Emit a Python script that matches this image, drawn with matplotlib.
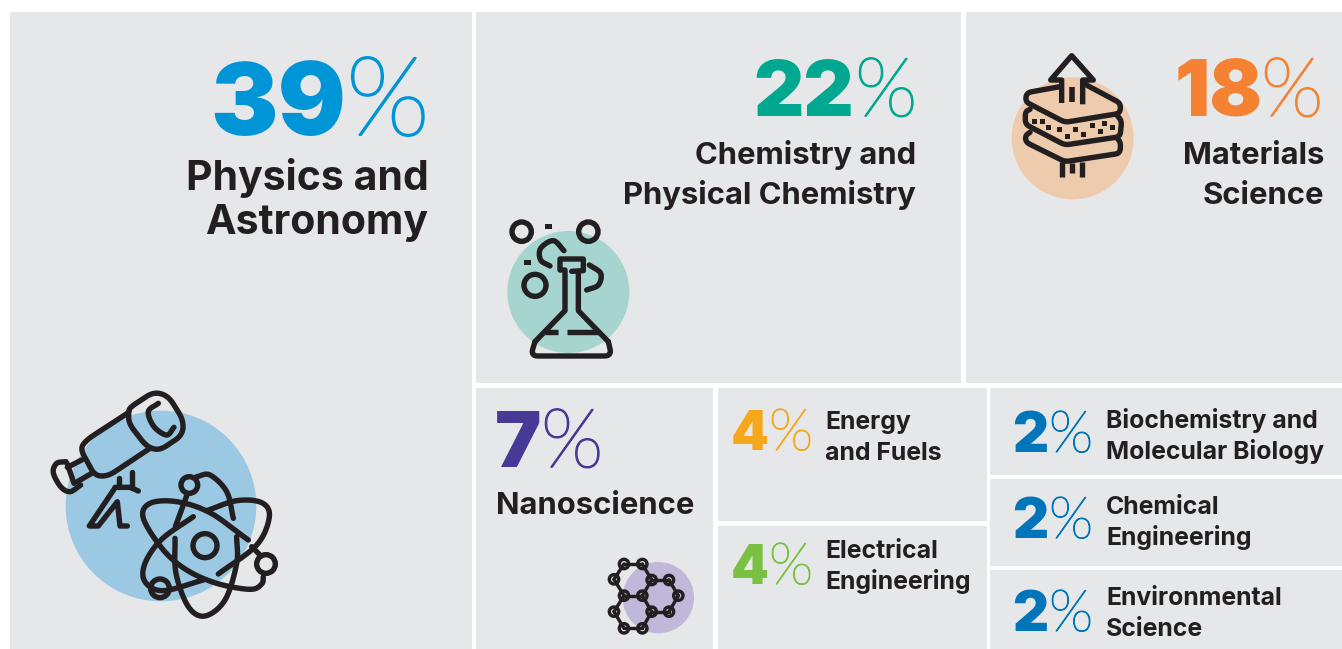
import numpy as np
import matplotlib
matplotlib.use("Agg")
import matplotlib.pyplot as plt
import matplotlib.patheffects as pe
from matplotlib.patches import Rectangle, Circle

# Share of output by research field
categories = [
    "Physics and\nAstronomy", "Chemistry and\nPhysical Chemistry", "Materials\nScience",
    "Nanoscience", "Energy\nand Fuels", "Electrical\nEngineering",
    "Biochemistry and\nMolecular Biology", "Chemical\nEngineering", "Environmental\nScience",
]
shares = [39, 22, 18, 7, 4, 4, 2, 2, 2]
colors = ["#0095d6", "#00a88f", "#f58233", "#463a96", "#f6a81c", "#7ac143", "#0075b9", "#0075b9", "#0075b9"]

BG = "#e6e7e8"
INK = "#231f20"
PX = 0.72  # points per pixel at 100 dpi

# x0, y0, x1, y1 of each tile
tiles = [
    (10, 12, 472, 649), (476, 12, 961, 383), (966, 12, 1342, 383),
    (476, 388, 713, 649), (718, 388, 987, 521), (718, 526, 987, 649),
    (990, 388, 1342, 475), (990, 479, 1342, 566), (990, 570, 1342, 649),
]
# number right edge, number px size, percent left edge, percent px size, baseline,
# label anchor x, first label baseline, label line step, label px size, label alignment
text_layout = [
    (346, 101, 346, 110, 135, 428.5, 190, 44, 41, "right"),
    (854, 78, 855, 82, 116, 916, 164, 40, 31, "right"),
    (1263, 78, 1261, 82, 116, 1324.5, 164, 40, 31, "right"),
    (541, 78, 541, 82, 467, 496, 514, 0, 31, "left"),
    (769, 54, 769, 58, 450, 825, 429, 31, 24.8, "left"),
    (769, 54, 769, 58, 584, 825, 558, 31, 24.8, "left"),
    (1048, 56, 1049, 58, 452, 1106, 428, 31, 24.8, "left"),
    (1048, 56, 1049, 58, 538, 1106, 514, 31, 24.8, "left"),
    (1048, 56, 1049, 58, 631, 1106, 605, 31, 24.8, "left"),
]

fig = plt.figure(figsize=(13.42, 6.49), dpi=100, facecolor="white")
ax = fig.add_axes([0, 0, 1, 1])
ax.set_xlim(0, 1342)
ax.set_ylim(649, 0)
ax.axis("off")


def spline(pts, closed=False, steps=14):
    """Catmull-Rom curve through hand-placed points."""
    p = np.asarray(pts, float)
    if closed:
        ctrl = np.vstack([p[-1], p, p[0], p[1]])
    else:
        ctrl = np.vstack([2 * p[0] - p[1], p, 2 * p[-1] - p[-2]])
    t = np.linspace(0, 1, steps, endpoint=False)[:, None]
    out = []
    for i in range(len(ctrl) - 3):
        a, b, c, d = ctrl[i:i + 4]
        out.append(0.5 * (2 * b + (c - a) * t + (2 * a - 5 * b + 4 * c - d) * t ** 2
                          + (3 * b - a - 3 * c + d) * t ** 3))
    out.append(ctrl[-2][None, :])
    return np.vstack(out)


def rounded(pts, r=16, steps=8):
    """Polyline whose inner corners are eased with a fixed radius."""
    p = np.asarray(pts, float)
    out = [p[0][None, :]]
    t = np.linspace(0, 1, steps)[:, None]
    for i in range(1, len(p) - 1):
        v0, v1 = p[i - 1] - p[i], p[i + 1] - p[i]
        a = p[i] + v0 / np.hypot(*v0) * min(r, np.hypot(*v0) / 2)
        b = p[i] + v1 / np.hypot(*v1) * min(r, np.hypot(*v1) / 2)
        out.append((1 - t) ** 2 * a + 2 * t * (1 - t) * p[i] + t ** 2 * b)
    out.append(p[-1][None, :])
    return np.vstack(out)


class Icon:
    """Line icon drawn in a local 3x grid anchored at a pixel origin."""

    def __init__(self, ox, oy, width=4.7):
        self.ox, self.oy, self.width = ox, oy, width

    def disc(self, cx, cy, r, color):
        ax.add_patch(Circle((self.ox + cx / 3, self.oy + cy / 3), r / 3, fc=color, ec="none", zorder=2))

    def line(self, p, width=None, cap="round"):
        p = np.asarray(p, float)
        ax.plot(self.ox + p[:, 0] / 3, self.oy + p[:, 1] / 3, color=INK, lw=(width or self.width) * PX,
                solid_capstyle=cap, solid_joinstyle="round", zorder=3)

    def curve(self, pts, closed=False, **kw):
        self.line(spline(pts, closed), **kw)

    def corners(self, pts, r=16, **kw):
        self.line(rounded(pts, r), **kw)

    def ring(self, cx, cy, r, width=None, z=3):
        ax.add_patch(Circle((self.ox + cx / 3, self.oy + cy / 3), r / 3, fc="none", ec=INK,
                            lw=(width or self.width) * PX, zorder=z))

    def square(self, cx, cy, w, h):
        ax.add_patch(Rectangle((self.ox + (cx - w / 2) / 3, self.oy + (cy - h / 2) / 3), w / 3, h / 3,
                               fc=INK, ec="none", zorder=3))


def telescope_and_atom():
    ic = Icon(30, 380, 5.4)
    ic.disc(393, 378, 286, "#9bc8e2")
    ic.corners([(296, 95), (300, 82), (372, 35), (415, 48), (460, 120), (458, 165), (388, 212), (350, 200), (296, 130), (296, 95)], r=26)
    ic.corners([(295, 98), (172, 178), (150, 205), (195, 288), (235, 288), (360, 205)], r=24)
    ic.line([(155, 240), (112, 262)])
    ic.line([(185, 280), (142, 305)])
    ic.curve([(108, 245), (80, 250), (70, 278), (92, 320), (120, 335), (152, 315)])
    ic.line([(112, 252), (132, 310)])
    ic.curve([(385, 70), (355, 95), (372, 140), (410, 165), (432, 142)])
    ic.line([(268, 295), (268, 322)])
    ic.line([(305, 275), (305, 322)])
    ic.line([(255, 322), (300, 322), (325, 333)])
    ic.line([(252, 328), (178, 438), (205, 438), (262, 365), (270, 438), (292, 438)])
    # atom: nucleus, three broken orbits and their electrons
    ic.ring(525, 497, 36, 5.4)
    ic.curve([(490, 410), (395, 478), (345, 550), (345, 605), (400, 632), (520, 600)])
    ic.curve([(530, 392), (620, 362), (695, 368), (718, 410), (680, 495), (565, 582)])
    ic.curve([(655, 480), (540, 398), (440, 365), (360, 370), (340, 415), (400, 510), (470, 570), (560, 610), (660, 628), (695, 612), (700, 590)])
    ic.curve([(610, 415), (590, 335), (540, 285), (500, 290)])
    ic.line([(472, 342), (436, 440)])
    ic.curve([(435, 475), (438, 580), (475, 680), (525, 708), (585, 660), (620, 550), (620, 470)])
    ic.line([(665, 500), (690, 525)])
    ic.ring(478, 315, 25)
    ic.ring(708, 552, 28)
    ic.ring(390, 625, 28)


def flask():
    ic = Icon(490, 210, 5.4)
    ic.disc(235, 246, 183, "#a6d5cf")
    ic.ring(95, 65, 29)
    ic.ring(295, 65, 29)
    ic.ring(135, 226, 33)
    ic.square(176, 49, 22, 16)
    ic.square(112, 157, 22, 16)
    ic.curve([(222, 122), (190, 92), (152, 115), (152, 150), (180, 168)])
    ic.curve([(298, 165), (332, 190), (325, 225), (290, 240)])
    ic.line([(245, 184), (280, 182), (280, 147), (210, 147), (210, 180), (225, 180), (225, 302), (135, 395)])
    ic.line([(265, 184), (265, 302), (355, 395)])
    ic.corners([(135, 395), (122, 438), (365, 438), (355, 395)], r=22)
    ic.line([(165, 367), (204, 367)], cap="butt")
    ic.line([(232, 367), (328, 367)], cap="butt")


def layers():
    ic = Icon(1000, 45, 5.4)
    ic.disc(218, 280, 183, "#eecbac")
    ic.line([(185, 174), (185, 105), (152, 105), (215, 32), (280, 105), (248, 105), (248, 178)], cap="butt")
    ic.line([(217, 127), (217, 170)], cap="butt", width=5.6)
    ic.corners([(180, 125), (80, 143), (76, 170), (195, 232), (360, 205), (362, 175), (250, 115)], r=14)
    ic.corners([(90, 193), (76, 200), (76, 238), (195, 300), (360, 275), (365, 228), (352, 212)], r=14)
    ic.corners([(90, 262), (76, 272), (78, 292), (195, 350), (360, 325), (362, 292), (350, 278)], r=14)
    for x, top, bottom in [(185, 352, 395), (217, 355, 384), (245, 350, 395)]:
        ic.line([(x, top), (x, bottom)], cap="butt")
    for cx, cy in [(103, 229), (127, 229), (145, 247), (178, 253), (226, 253), (203, 274),
                   (250, 268), (277, 241), (301, 259), (313, 235), (337, 247)]:
        ic.square(cx, cy, 14, 14)


def hexagons():
    ic = Icon(595, 550, 3.4)
    ic.disc(190, 143, 107, "#c0b8d8")
    nodes = {"a": (87, 42), "b": (142, 42), "c": (57, 88), "d": (170, 90), "e": (222, 90), "f": (250, 137),
             "g": (222, 185), "h": (170, 185), "i": (87, 137), "j": (142, 137), "k": (57, 185), "l": (87, 235),
             "m": (142, 235)}
    bonds = ["ab", "ac", "bd", "de", "ef", "fg", "gh", "hj", "dj", "ij", "ci", "ik", "kl", "lm", "hm"]
    for u, v in bonds:
        ic.line([nodes[u], nodes[v]])
    for cx, cy in nodes.values():
        ic.ring(cx, cy, 14, z=4)


for (x0, y0, x1, y1) in tiles:
    ax.add_patch(Rectangle((x0, y0), x1 - x0, y1 - y0, fc=BG, ec="none", zorder=1))

telescope_and_atom()
flask()
layers()
hexagons()

for name, share, color, spec in zip(categories, shares, colors, text_layout):
    num_r, num_size, pct_l, pct_size, base, lx, ly, step, lsize, align = spec
    ax.text(num_r, base, str(share), ha="right", va="baseline", color=color, family="Inter",
            weight="black", fontsize=num_size * PX, zorder=5)
    # the light percent sign is thickened a little in proportion to its size
    ax.text(pct_l, base, "%", ha="left", va="baseline", color=color, family="Lato",
            weight="light", fontsize=pct_size * PX, zorder=5,
            path_effects=[pe.withStroke(linewidth=pct_size * 0.017 * PX * 1.2, foreground=color)])
    for i, line in enumerate(name.split("\n")):
        ax.text(lx, ly + i * step, line, ha=align, va="baseline", color=INK, family="Inter",
                weight="bold", fontsize=lsize * PX, zorder=5)

fig.savefig("out.png", dpi=100, facecolor="white")
